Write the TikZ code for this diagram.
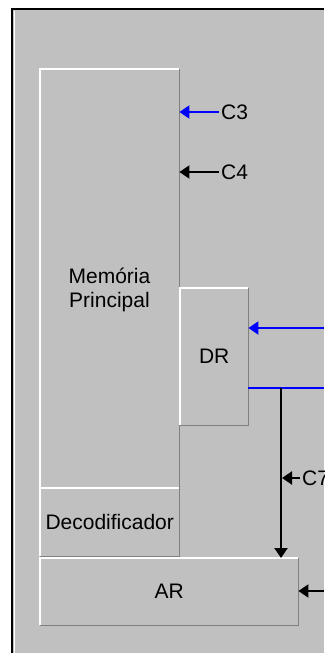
\documentclass[tikz,border=0pt]{standalone}
\usepackage{fontspec}
\setmainfont{Liberation Sans}
\usetikzlibrary{arrows.meta}
\definecolor{panel}{HTML}{C0C0C0}
\definecolor{shadow}{HTML}{808080}

\begin{document}
\begin{tikzpicture}[x=1pt, y=-1pt, >={Triangle[length=10pt,width=13pt]},
  box/.style={fill=panel, inner sep=0pt, anchor=north west, font=\fontsize{21}{24}\selectfont},
  lbl/.style={anchor=west, inner sep=2pt, font=\fontsize{21}{24}\selectfont},
  bus/.style={line width=2pt, blue},
  sig/.style={line width=2pt}]
\useasboundingbox (0,0) rectangle (324,653);
\fill[white] (0,0) rectangle (324,653);
\fill[panel] (12,9) rectangle (324,653);
\draw[line width=2pt] (12,653) -- (12,9) -- (324,9);
\draw[white, line width=1.5pt] (14.5,11) -- (14.5,653);
% blocks
\node[box, minimum width=139pt, minimum height=419pt] (mem) at (40,69) {};
\node[box, minimum width=139pt, minimum height=68pt] (dec) at (40,488) {Decodificador};
\node[box, minimum width=68pt, minimum height=137pt] (dr) at (180,288) {DR};
\node[box, minimum width=258pt, minimum height=67pt] (ar) at (40,558) {AR};
\node[align=center, inner sep=0pt, font=\fontsize{21}{24}\selectfont] (memtxt) at (109.5,290) {Memória\\Principal};
\foreach \b in {mem,dec,dr,ar} {
  \draw[white, line width=1.5pt] (\b.south west) |- (\b.north east);
  \draw[shadow, line width=1.5pt] (\b.north east) |- (\b.south west);
}
% control signals
\node[lbl] (c3) at (219,112) {C3};
\draw[->, bus] (c3.west) -- (mem.east |- c3.west);
\node[lbl] (c4) at (219,172) {C4};
\draw[->, sig] (c4.west) -- (mem.east |- c4.west);
% buses
\coordinate (drin) at (324,328);
\draw[->, bus] (drin) -- (dr.east |- drin);
\coordinate (drout) at (324,388);
\draw[bus] (dr.east |- drout) -- (drout);
\coordinate (tap) at (281,388);
\draw[->, sig] (tap) -- (ar.north -| tap);
\node[lbl] (c7) at (300,478) {C7};
\draw[->, sig] (c7.west) -- ([xshift=1pt]tap |- c7.west);
\coordinate (arin) at (324,591);
\draw[->, sig] (arin) -- (ar.east |- arin);
\end{tikzpicture}
\end{document}
